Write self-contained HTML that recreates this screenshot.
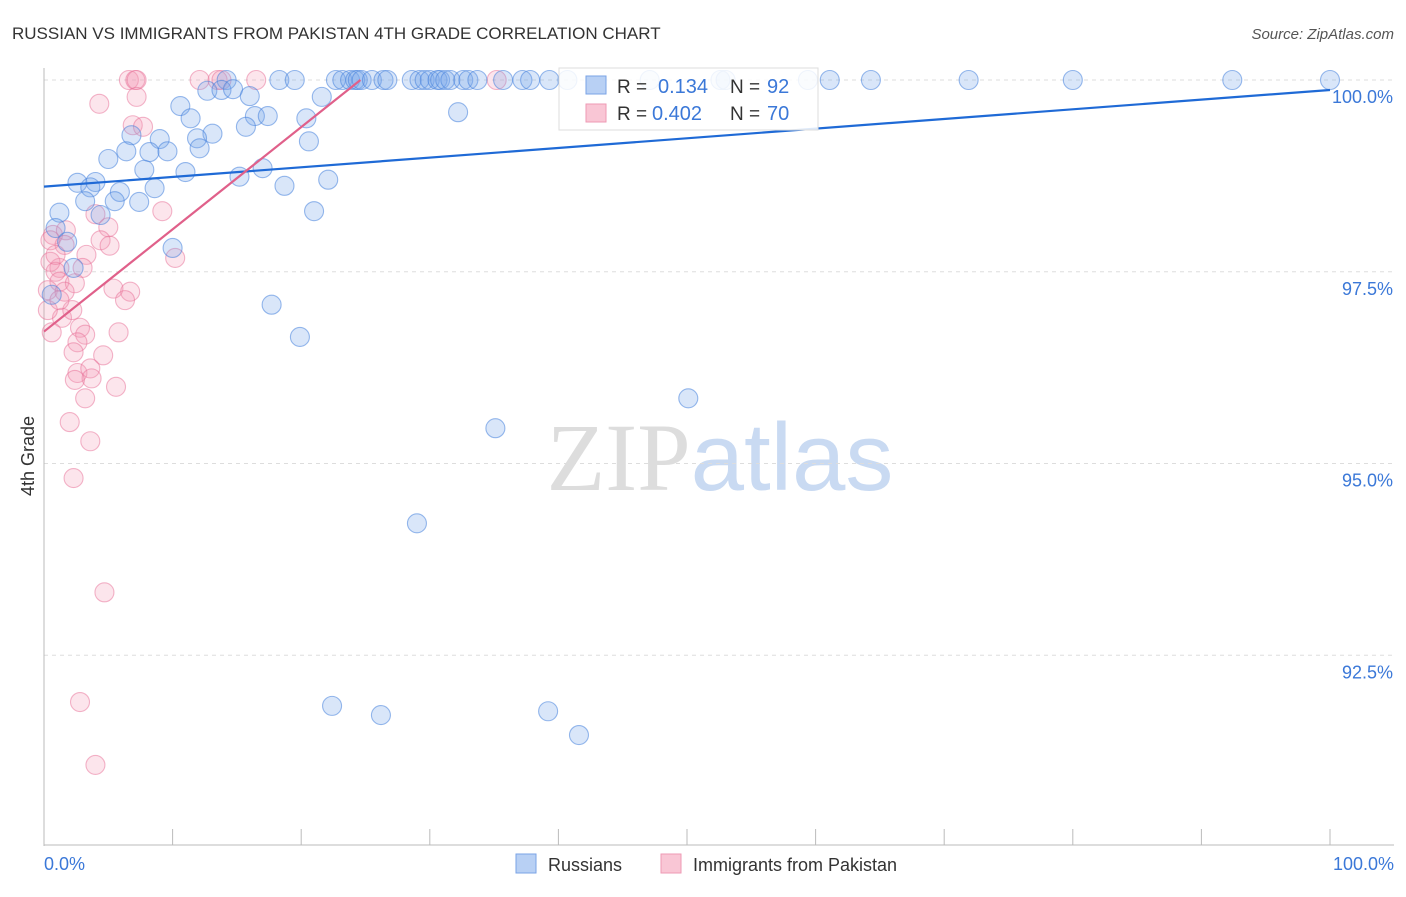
<!DOCTYPE html>
<html><head><meta charset="utf-8"><style>
body{margin:0;background:#fff;font-family:"Liberation Sans",sans-serif;}
svg text{font-family:"Liberation Sans",sans-serif;}
</style></head><body>
<svg id="chart" width="1406" height="892" xmlns="http://www.w3.org/2000/svg">
<text x="12" y="39" font-size="17" fill="#333">RUSSIAN VS IMMIGRANTS FROM PAKISTAN 4TH GRADE CORRELATION CHART</text>
<text x="1394" y="39" font-size="15" fill="#555" text-anchor="end" font-style="italic">Source: ZipAtlas.com</text>
<text x="720" y="490" font-size="96" text-anchor="middle"><tspan fill="#ddd" font-family="Liberation Serif">ZIP</tspan><tspan fill="#c9daf2">atlas</tspan></text>
<g id="grid"></g>
<line x1="44" y1="68" x2="44" y2="846" stroke="#bbb"/>
<line x1="44" y1="845" x2="1394" y2="845" stroke="#bbb"/>
<g id="ticks"></g>
<text transform="translate(34,456) rotate(-90)" font-size="18" fill="#333" text-anchor="middle">4th Grade</text>
<text x="44" y="870" font-size="18" fill="#3b78d8">0.0%</text>
<text x="1394" y="870" font-size="18" fill="#3b78d8" text-anchor="end">100.0%</text>
<g id="pts"></g>
<g id="lines"></g>
<g>
<rect x="559" y="68" width="259" height="62" fill="rgba(255,255,255,0.85)" stroke="#ddd"/>
<rect x="586" y="76" width="20" height="18" fill="#b8d0f4" stroke="#7aa3e6"/>
<rect x="586" y="104" width="20" height="18" fill="#f9c6d5" stroke="#ee9ab4"/>
<text x="617" y="93" font-size="19" fill="#333">R =</text>
<text x="658" y="93" font-size="20" fill="#3b78d8">0.134</text>
<text x="730" y="93" font-size="19" fill="#333">N =</text>
<text x="767" y="93" font-size="20" fill="#3b78d8">92</text>
<text x="617" y="120" font-size="19" fill="#333">R =</text>
<text x="652" y="120" font-size="20" fill="#3b78d8">0.402</text>
<text x="730" y="120" font-size="19" fill="#333">N =</text>
<text x="767" y="120" font-size="20" fill="#3b78d8">70</text>
</g>
<g>
<rect x="516" y="854" width="20" height="19" fill="#b8d0f4" stroke="#7aa3e6"/>
<text x="548" y="871" font-size="18" fill="#333">Russians</text>
<rect x="661" y="854" width="20" height="19" fill="#f9c6d5" stroke="#ee9ab4"/>
<text x="693" y="871" font-size="18" fill="#333">Immigrants from Pakistan</text>
</g>
</svg>
<script>
const yTicks=[100,97.5,95,92.5];
const yTickLabels=["100.0%","97.5%","95.0%","92.5%"];
const xTicks=[0,10,20,30,40,50,60,70,80,90,100];
const blueX=[14.2,18.3,19.5,22.7,23.2,23.8,24.2,24.4,24.7,25.5,26.4,26.7,28.6,29.2,29.6,30.0,30.6,30.8,31.2,31.6,32.6,33.0,33.7,35.7,37.2,37.8,39.3,40.7,47.1,52.6,53.0,59.4,61.1,64.3,71.9,80.0,92.4,100,
12.7,13.8,14.7,16.0,10.6,11.4,16.4,17.4,20.4,21.6,32.2,6.8,9.0,13.1,11.9,15.7,5.0,6.4,8.2,9.6,12.1,20.6,7.8,11.0,15.2,17.0,2.6,4.0,3.6,5.9,8.6,18.7,22.1,3.2,5.5,7.4,21.0,1.2,4.4,0.9,1.8,2.3,10.0,17.7,19.9,50.1,35.1,29.0,22.4,26.2,39.2,41.6,0.6];
const blueY=[100,100,100,100,100,100,100,100,100,100,100,100,100,100,100,100,100,100,100,100,100,100,100,100,100,100,100,100,100,100,100,100,100,100,100,100,100,100,
99.86,99.87,99.88,99.79,99.66,99.50,99.53,99.53,99.50,99.78,99.58,99.28,99.23,99.30,99.24,99.39,98.97,99.07,99.06,99.07,99.11,99.20,98.83,98.80,98.74,98.85,98.66,98.67,98.60,98.54,98.59,98.62,98.70,98.42,98.42,98.41,98.29,98.27,98.24,98.07,97.89,97.55,97.81,97.07,96.65,95.85,95.46,94.22,91.84,91.72,91.77,91.46,97.20];
const pinkX=[6.6,7.1,7.2,12.1,13.5,13.8,16.5,35.2,4.3,7.2,6.9,7.7,9.2,4.0,5.0,4.4,5.1,10.2,0.7,1.7,1.6,3.3,3.0,1.2,0.5,0.9,1.2,0.3,2.4,1.6,5.4,6.7,6.3,1.4,2.2,2.8,0.6,5.8,3.2,2.6,2.3,4.6,2.6,3.6,3.7,5.6,3.2,2.4,2.0,3.6,2.3,4.7,2.8,4.0,0.5,0.9,0.3,1.2];
const pinkY=[100,100,100,100,100,100,100,100,99.69,99.78,99.41,99.39,98.29,98.25,98.08,97.91,97.84,97.68,97.98,98.04,97.85,97.72,97.55,97.55,97.63,97.50,97.37,97.26,97.35,97.24,97.28,97.24,97.13,96.90,97.00,96.77,96.71,96.71,96.68,96.58,96.45,96.41,96.18,96.24,96.11,96.00,95.85,96.09,95.54,95.29,94.81,93.32,91.89,91.07,97.91,97.72,97.00,97.13];
const blueTrend=[98.61,99.87];
const pinkTrend=[96.72,0.1333];
const NS="http://www.w3.org/2000/svg";
function xs(v){return 44+v*12.86;}
function ys(v){return 80+(100-v)*76.7;}
function mk(t,a,p){const e=document.createElementNS(NS,t);for(const k in a)e.setAttribute(k,a[k]);p.appendChild(e);return e;}
const grid=document.getElementById('grid');
yTicks.forEach((t,i)=>{
 const l=mk('line',{x1:44,x2:1394,y1:ys(t),y2:ys(t),stroke:'#ddd','stroke-dasharray':'4,4'},grid);
 
 
 const tx=mk('text',{x:1393,y:ys(t)+23,'font-size':18,fill:'#3b78d8','text-anchor':'end'},grid);
 tx.textContent=yTickLabels[i];
 
 
});
const ticks=document.getElementById('ticks');
xTicks.forEach(t=>{
 const l=mk('line',{x1:xs(t),x2:xs(t),y1:829,y2:845,stroke:'#bbb'},ticks);
 
 
});
const pts=document.getElementById('pts');
pinkX.forEach((x,i)=>{
 const c=mk('circle',{cx:xs(x),cy:ys(pinkY[i]),r:9.5,fill:'rgba(244,150,178,0.25)',stroke:'rgba(232,110,150,0.5)','stroke-width':1.1},pts);
 
 
});
blueX.forEach((x,i)=>{
 const c=mk('circle',{cx:xs(x),cy:ys(blueY[i]),r:9.5,fill:'rgba(120,165,235,0.28)',stroke:'rgba(70,130,220,0.55)','stroke-width':1.1},pts);
 
 
});
const lines=document.getElementById('lines');
const bl=mk('line',{x1:xs(0),y1:ys(blueTrend[0]),x2:xs(100),y2:ys(blueTrend[1]),stroke:'#1f6ad6','stroke-width':2.2},lines);


const pe=(100-pinkTrend[0])/pinkTrend[1];
const pl=mk('line',{x1:xs(0),y1:ys(pinkTrend[0]),x2:xs(pe),y2:ys(100),stroke:'#e0608a','stroke-width':2.2},lines);


</script>
</body></html>
